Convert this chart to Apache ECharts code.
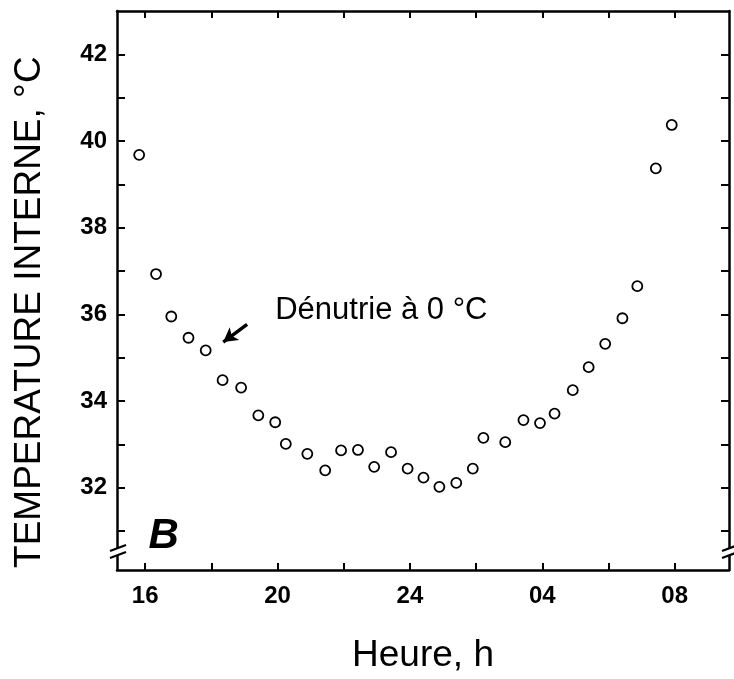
<!DOCTYPE html>
<html>
<head>
<meta charset="utf-8">
<script src="https://cdn.jsdelivr.net/npm/echarts@6/dist/echarts.min.js"></script>
<style>
  html, body { margin: 0; padding: 0; background: #fff; }
  #chart { width: 734px; height: 679px; }
</style>
</head>
<body>
<div id="chart"></div>
<script>
// heures depuis minuit du premier jour (32 = 08 h le lendemain)
const hours = [15.82, 16.33, 16.79, 17.31, 17.83, 18.34, 18.90, 19.42, 19.93, 20.25,
  20.90, 21.44, 21.92, 22.43, 22.92, 23.43, 23.93, 24.41, 24.89, 25.40,
  25.90, 26.22, 26.88, 27.43, 27.93, 28.37, 28.92, 29.40, 29.90, 30.42,
  30.87, 31.43, 31.91]
// température interne, °C
const temps = [39.68, 36.93, 35.95, 35.46, 35.17, 34.48, 34.31, 33.67, 33.51, 33.01,
  32.78, 32.40, 32.86, 32.87, 32.48, 32.82, 32.44, 32.23, 32.02, 32.11,
  32.44, 33.15, 33.05, 33.56, 33.49, 33.71, 34.25, 34.78, 35.32, 35.91,
  36.65, 39.37, 40.37]

const xLabelValues = [16, 20, 24, 28, 32]
const xTickValues = [16, 18, 20, 22, 24, 26, 28, 30, 32]
const yLabelValues = [32, 34, 36, 38, 40, 42]
const yTickValues = [31, 32, 33, 34, 35, 36, 37, 38, 39, 40, 41, 42]

// flèche "Dénutrie à 0 °C" (début, pointe) en coordonnées de données
const arrowFrom = [19.08, 35.77]
const arrowTo = [18.36, 35.36]
const notePos = [19.93, 36.08]
const panelPos = [16.1, 30.88]

const X_MIN = 15.15, X_MAX = 33.64
const Y_MIN = 30.1, Y_MAX = 43

const FONT = '"Liberation Sans", Arial, Helvetica, sans-serif'

const fmtHour = v => (v === 24 ? '24' : String(v % 24).padStart(2, '0'))

const chart = echarts.init(document.getElementById('chart'))

const axisLine = { show: true, lineStyle: { color: '#000', width: 2.5 } }
const tickStyle = { color: '#000', width: 2 }

const option = {
  animation: false,
  backgroundColor: '#fff',
  grid: { left: 117, right: 5, top: 11, bottom: 106 },
  xAxis: [
    {
      type: 'value',
      min: X_MIN,
      max: X_MAX,
      position: 'bottom',
      axisLine,
      axisTick: { show: true, inside: true, length: 7, lineStyle: tickStyle, customValues: xTickValues },
      axisLabel: {
        customValues: xLabelValues,
        formatter: fmtHour,
        color: '#000',
        fontFamily: FONT,
        fontSize: 24,
        fontWeight: 'bold',
        margin: 14,
      },
      splitLine: { show: false },
      name: 'Heure, h',
      nameLocation: 'middle',
      nameGap: 67,
      nameTextStyle: { color: '#000', fontFamily: FONT, fontSize: 37 },
    },
    {
      type: 'value',
      min: X_MIN,
      max: X_MAX,
      position: 'top',
      axisLine,
      axisTick: { show: true, inside: true, length: 7, lineStyle: tickStyle, customValues: xTickValues },
      axisLabel: { show: false },
      splitLine: { show: false },
    },
  ],
  yAxis: [
    {
      type: 'value',
      min: Y_MIN,
      max: Y_MAX,
      position: 'left',
      axisLine,
      axisTick: { show: true, inside: true, length: 8, lineStyle: tickStyle, customValues: yTickValues },
      axisLabel: {
        customValues: yLabelValues,
        color: '#000',
        fontFamily: FONT,
        fontSize: 24,
        fontWeight: 'bold',
        margin: 10,
      },
      splitLine: { show: false },
    },
    {
      type: 'value',
      min: Y_MIN,
      max: Y_MAX,
      position: 'right',
      axisLine,
      axisTick: { show: true, inside: true, length: 8, lineStyle: tickStyle, customValues: yTickValues },
      axisLabel: { show: false },
      splitLine: { show: false },
    },
  ],
  series: [
    {
      type: 'scatter',
      data: hours.map((h, i) => [h, temps[i]]),
      symbol: 'circle',
      symbolSize: 10,
      itemStyle: { color: '#fff', borderColor: '#000', borderWidth: 1.8, opacity: 1 },
      silent: true,
      z: 5,
      markLine: {
        silent: true,
        symbol: ['none', 'arrow'],
        symbolSize: [12, 14],
        label: { show: false },
        lineStyle: { color: '#000', width: 3.5, type: 'solid' },
        data: [[{ coord: arrowFrom }, { coord: arrowTo }]],
      },
    },
  ],
}

chart.setOption(option)

// annotations, titre d'axe Y et coupures d'axe, positionnés depuis les axes
const toPx = p => chart.convertToPixel({ gridIndex: 0 }, p)
const corner = toPx([X_MIN, Y_MIN])
const cornerR = toPx([X_MAX, Y_MIN])
const note = toPx(notePos)
const panel = toPx(panelPos)
const yNameY = toPx([X_MIN, 36.05])[1]

const breakMark = (x0, y0) => [
  { type: 'rect', shape: { x: x0 - 4, y: y0 - 22, width: 8, height: 7 }, style: { fill: '#fff' }, z: 100 },
  { type: 'line', shape: { x1: x0 - 7, y1: y0 - 19, x2: x0 + 9, y2: y0 - 25 }, style: { stroke: '#000', lineWidth: 2.2 }, z: 101 },
  { type: 'line', shape: { x1: x0 - 7, y1: y0 - 12, x2: x0 + 9, y2: y0 - 18 }, style: { stroke: '#000', lineWidth: 2.2 }, z: 101 },
]

chart.setOption({
  graphic: [
    ...breakMark(corner[0], corner[1]),
    ...breakMark(cornerR[0], cornerR[1]),
    {
      type: 'text',
      x: 30,
      y: yNameY,
      rotation: Math.PI / 2,
      style: {
        text: 'TEMPERATURE INTERNE, °C',
        fill: '#000',
        font: '37px ' + FONT,
        textAlign: 'center',
        textVerticalAlign: 'middle',
      },
      z: 50,
    },
    {
      type: 'text',
      x: note[0],
      y: note[1],
      style: {
        text: 'Dénutrie à 0 °C',
        fill: '#000',
        font: '31px ' + FONT,
        textAlign: 'left',
        textVerticalAlign: 'middle',
      },
      z: 50,
    },
    {
      type: 'text',
      x: panel[0],
      y: panel[1],
      style: {
        text: 'B',
        fill: '#000',
        font: 'italic bold 42px ' + FONT,
        textAlign: 'left',
        textVerticalAlign: 'middle',
      },
      z: 50,
    },
  ],
})

window.addEventListener('resize', () => chart.resize())
</script>
</body>
</html>
